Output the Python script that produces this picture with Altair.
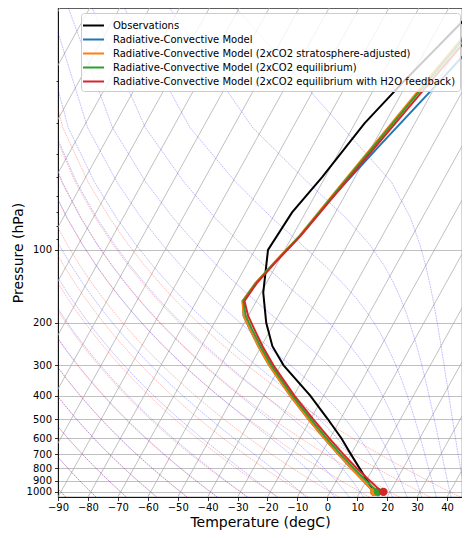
import numpy as np
import pandas as pd
import altair as alt

# Observed global-mean temperature profile (hPa, degC)
obs_p = [1000, 925, 850, 700, 600, 500, 400, 300, 250, 200, 150, 100, 70, 50, 30, 20, 10]
obs_t = [14.8, 11.5, 8.0, 0.0, -6.2, -14.3, -24.5, -39.0, -46.3, -52.7, -59.3, -65.6,
         -64.5, -61.0, -56.8, -51.4, -41.0]

# Radiative-convective model profiles (hPa, degC)
model_p = [987.5, 900, 800, 700, 600, 500, 400, 300, 250, 212.5, 187.5, 162.5,
           137.5, 112.5, 87.5, 62.5, 37.5, 20, 12.5]
rcm_t = [13.9, 9.0, 2.7, -4.2, -12.0, -20.8, -31.2, -43.8, -51.0, -57.0, -61.5, -64.6,
         -63.6, -61.1, -57.5, -54.3, -47.8, -39.4, -33.5]
adj_t = [13.9, 9.0, 2.7, -4.2, -12.0, -20.8, -31.2, -43.8, -51.0, -57.0, -61.5, -64.7,
         -63.7, -61.2, -57.7, -54.7, -49.9, -44.0, -39.3]
eq_t = [15.1, 10.0, 3.6, -3.4, -11.2, -20.0, -30.5, -43.1, -50.3, -56.3, -60.8, -64.4,
        -63.5, -61.0, -57.5, -54.4, -49.5, -43.4, -38.7]
h2o_t = [16.5, 11.2, 4.6, -2.5, -10.3, -19.2, -29.8, -42.4, -49.6, -55.5, -60.0, -64.0,
         -63.2, -60.8, -57.3, -54.0, -48.8, -42.4, -37.4]

# surface temperature markers at 1000 hPa
surf_p = 1000
surf_t = [14.7, 14.7, 16.0, 17.8]

names = [
    "Observations",
    "Radiative-Convective Model",
    "Radiative-Convective Model (2xCO2 stratosphere-adjusted)",
    "Radiative-Convective Model (2xCO2 equilibrium)",
    "Radiative-Convective Model (2xCO2 equilibrium with H2O feedback)",
]
colors = ["black", "#1f77b4", "#ff7f0e", "#2ca02c", "#d62728"]

# diagram background
isotherm_t0 = list(range(-180, 41, 10))
dry_t0 = list(range(-90, 41, 10))
moist_t0 = list(range(-90, 0, 10)) + list(range(0, 46, 5))

PMAX, PMIN = 1050, 10
SKEW = 90.6  # degC of horizontal shift from bottom to top of the axes
SKEW_EXPR = f"datum.t + {SKEW} * log({PMAX} / datum.p) / log({PMAX / PMIN})"

RD, CP, LV, EPS = 287.04749, 1004.6662, 2.50084e6, 0.6219569


def moist_dtdp(p, t):
    es = 6.112 * np.exp(17.67 * (t - 273.15) / (t - 29.65))
    rs = EPS * es / (p - es)
    frac = (RD * t + LV * rs) / (CP + LV * LV * rs * EPS / (RD * t * t))
    return frac / p


def rk4(p0, p1, t, n=40):
    h = (p1 - p0) / n
    p = p0
    for _ in range(n):
        k1 = moist_dtdp(p, t)
        k2 = moist_dtdp(p + h / 2, t + h * k1 / 2)
        k3 = moist_dtdp(p + h / 2, t + h * k2 / 2)
        k4 = moist_dtdp(p + h, t + h * k3)
        t = t + h * (k1 + 2 * k2 + 2 * k3 + k4) / 6
        p += h
    return t


levels = np.linspace(PMAX, PMIN, 50)

rows = []
for t0 in isotherm_t0:
    rows += [{"line": t0, "p": PMAX, "t": t0}, {"line": t0, "p": PMIN, "t": t0}]
iso_df = pd.DataFrame(rows)

rows = []
for t0 in dry_t0:
    for p in levels:
        rows.append({"line": t0, "p": p,
                     "t": (t0 + 273.15) * (p / 1000) ** (RD / CP) - 273.15})
dry_df = pd.DataFrame(rows)

rows = []
tk0 = np.array(moist_t0, dtype=float) + 273.15
for part in (sorted([p for p in levels if p < 1000], reverse=True),
             sorted([p for p in levels if p >= 1000])):
    pcur, tk = 1000.0, tk0.copy()
    for p in part:
        tk = rk4(pcur, p, tk)
        pcur = p
        for t0, tv in zip(moist_t0, tk):
            rows.append({"line": t0, "p": p, "t": tv - 273.15})
moist_df = pd.DataFrame(rows)

prof = [{"name": names[0], "p": p, "t": t} for p, t in zip(obs_p, obs_t)]
for name, temps in zip(names[1:], [rcm_t, adj_t, eq_t, h2o_t]):
    prof += [{"name": name, "p": p, "t": t} for p, t in zip(model_p, temps)]
prof_df = pd.DataFrame(prof)

surf_df = pd.DataFrame({"name": names[1:], "p": surf_p, "t": surf_t})

x_enc = alt.X("xs:Q", title="Temperature (degC)",
              scale=alt.Scale(domain=[-90, 45], nice=False, zero=False),
              axis=alt.Axis(values=list(range(-90, 41, 10)), grid=False, tickSize=3.5,
                            labelOverlap=False, labelFlush=False, labelPadding=2,
                            titlePadding=3))
y_enc = alt.Y("p:Q", title="Pressure (hPa)",
              scale=alt.Scale(type="log", domain=[PMIN, PMAX], reverse=True, nice=False),
              axis=alt.Axis(values=[20, 30, 40, 50, 60, 70, 80, 90] + list(range(100, 1001, 100)),
                            labelExpr="datum.value >= 100 ? datum.value : ''",
                            labelOverlap=False, labelFlush=False,
                            tickSize={"condition": {"test": "datum.value < 100", "value": 2},
                                      "value": 3.5},
                            gridOpacity={"condition": {"test": "datum.value < 100", "value": 0},
                                         "value": 1},
                            labelPadding=3, titlePadding=1))
order = alt.Order("p:Q", sort="descending")

iso = alt.Chart(iso_df).mark_line(color="#b0b0b0", strokeWidth=0.8, clip=True).transform_calculate(
    xs=SKEW_EXPR).encode(x=x_enc, y=y_enc, detail="line:N", order=order)

dry = alt.Chart(dry_df).mark_line(color="red", strokeWidth=0.5, opacity=0.5,
                                  strokeDash=[1.85, 0.8], clip=True).transform_calculate(
    xs=SKEW_EXPR).encode(x=x_enc, y=y_enc, detail="line:N", order=order)

moist = alt.Chart(moist_df).mark_line(color="blue", strokeWidth=0.5, opacity=0.5,
                                      strokeDash=[1.85, 0.8], clip=True).transform_calculate(
    xs=SKEW_EXPR).encode(x=x_enc, y=y_enc, detail="line:N", order=order)

color = alt.Color("name:N", scale=alt.Scale(domain=names, range=colors),
                  legend=alt.Legend(title=None, orient="none", legendX=23, legendY=5,
                                    symbolType="M-1.4,0H1.4", symbolSize=225,
                                    symbolStrokeWidth=2, labelFont="DejaVu Sans",
                                    labelFontSize=10, labelOffset=11, labelLimit=400,
                                    rowPadding=0, padding=4, strokeColor="#cccccc",
                                    fillColor="rgba(255,255,255,0.8)", cornerRadius=3))

layers = [iso, dry, moist]
for i, name in enumerate(names):
    line = alt.Chart(prof_df).transform_filter(alt.datum.name == name).transform_calculate(
        xs=SKEW_EXPR).mark_line(strokeWidth=2, clip=True).encode(
        x=x_enc, y=y_enc, color=color, order=order)
    layers.append(line)
    if i > 0:
        dot = alt.Chart(surf_df).transform_filter(alt.datum.name == name).transform_calculate(
            xs=SKEW_EXPR).mark_circle(size=70, opacity=1, color=colors[i]).encode(
            x=x_enc, y=y_enc)
        layers.append(dot)

chart = alt.layer(*layers).properties(
    width=404, height=489,
    autosize=alt.AutoSizeParams(type="none"),
    padding={"left": 50, "top": 0, "right": 0, "bottom": 38},
).configure_axis(
    labelFont="DejaVu Sans", labelFontSize=10, labelColor="black",
    titleFont="DejaVu Sans", titleFontSize=14, titleFontWeight="normal", titleColor="black",
    tickColor="black", tickWidth=0.8, domainColor="black", domainWidth=0.8,
    gridColor="#b0b0b0", gridWidth=0.8,
).configure_view(stroke="black", strokeWidth=0.8)

chart.save("out.html", embed_options={"renderer": "svg", "actions": False})
